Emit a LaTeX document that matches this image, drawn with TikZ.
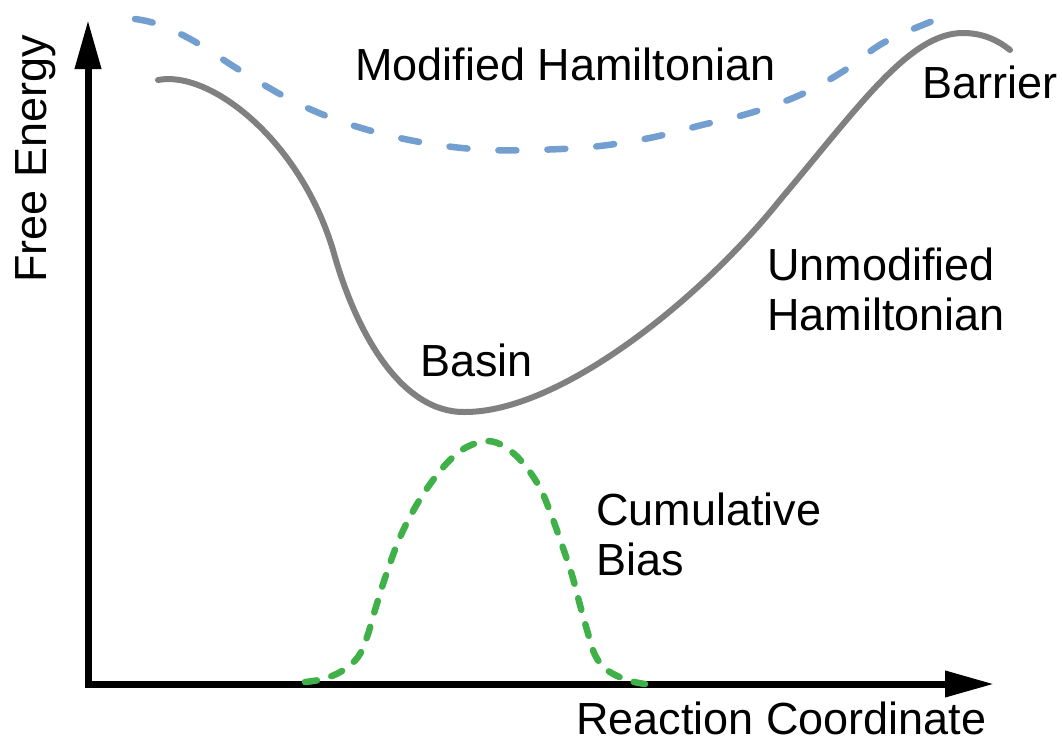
\documentclass[tikz,border=0pt]{standalone}
\usepackage{fontspec}
\setmainfont{Liberation Sans}
\usetikzlibrary{arrows.meta}
\definecolor{curveblue}{RGB}{114,159,207}
\definecolor{curvegreen}{RGB}{64,176,72}
\definecolor{curvegray}{RGB}{128,128,128}
\begin{document}
\begin{tikzpicture}[x=1pt,y=-1pt,
  lbl/.style={inner sep=0pt,anchor=base west,align=left,font=\fontsize{45}{50}\selectfont},
  axisline/.style={line width=7pt,line join=miter,{Triangle[length=49pt,width=25pt]}-{Triangle[length=49pt,width=25pt]}},
  modcurve/.style={curveblue,line width=6.5pt,line cap=round,dash pattern=on 18pt off 31pt},
  unmodcurve/.style={curvegray,line width=6pt,line cap=round},
  biascurve/.style={curvegreen,line width=6.5pt,line cap=round,dash pattern=on 12pt off 15pt}]
\useasboundingbox (0,0) rectangle (1062,744);
\coordinate (ytip) at (88,20);
\coordinate (origin) at (88,684);
\coordinate (xtip) at (994,684);
\draw[axisline] (ytip) -- (origin) -- (xtip);
% modified Hamiltonian
\draw[modcurve] plot[smooth,tension=0.6] coordinates {(135,19) (157,24) (192,40) (241,71) (291,100) (337,120) (387,135) (438,145) (490,150) (549,149.5) (600,146) (652,137.5) (702,125) (752,112.5) (800,95) (842,72) (883,43) (930,22) (945,17)};
% unmodified Hamiltonian
\coordinate (g0) at (158,80);
\coordinate (g1) at (333,250);
\coordinate (gmin) at (465,412);
\coordinate (g3) at (780,200);
\coordinate (gtop) at (963,33);
\coordinate (gend) at (1010,50);
\draw[unmodcurve] (g0) .. controls (210,70) and (300,140) .. (g1)
  .. controls (355,330) and (400,413) .. (gmin)
  .. controls (560,412) and (700,300) .. (g3)
  .. controls (860,105) and (910,33) .. (gtop)
  .. controls (985,33) and (1000,42) .. (gend);
% cumulative bias
\draw[biascurve] plot[smooth,tension=0.6] coordinates {(305,682) (323,679) (342,671) (358,657) (367,637) (375,610) (385,578) (398,542) (412,513) (428,487) (447,463) (465,448) (487,441) (505,447) (523,463) (540,488) (552,517) (562,545) (572,575) (580,605) (587,630) (595,655) (607,670) (627,680) (645,684)};
\node[lbl] (modlbl) at (355,80) {Modified Hamiltonian};
\node[lbl] (barrier) at (922,98) {Barrier};
\node[lbl] (unmodlbl) at (767,330) {Unmodified\\Hamiltonian};
\node[lbl] (basin) at (420,376) {Basin};
\node[lbl] (biaslbl) at (596,575) {Cumulative\\Bias};
\node[lbl] (xlbl) at (576,734) {Reaction Coordinate};
\node[lbl,rotate=90] (ylbl) at (46,283) {Free Energy};
\end{tikzpicture}
\end{document}
